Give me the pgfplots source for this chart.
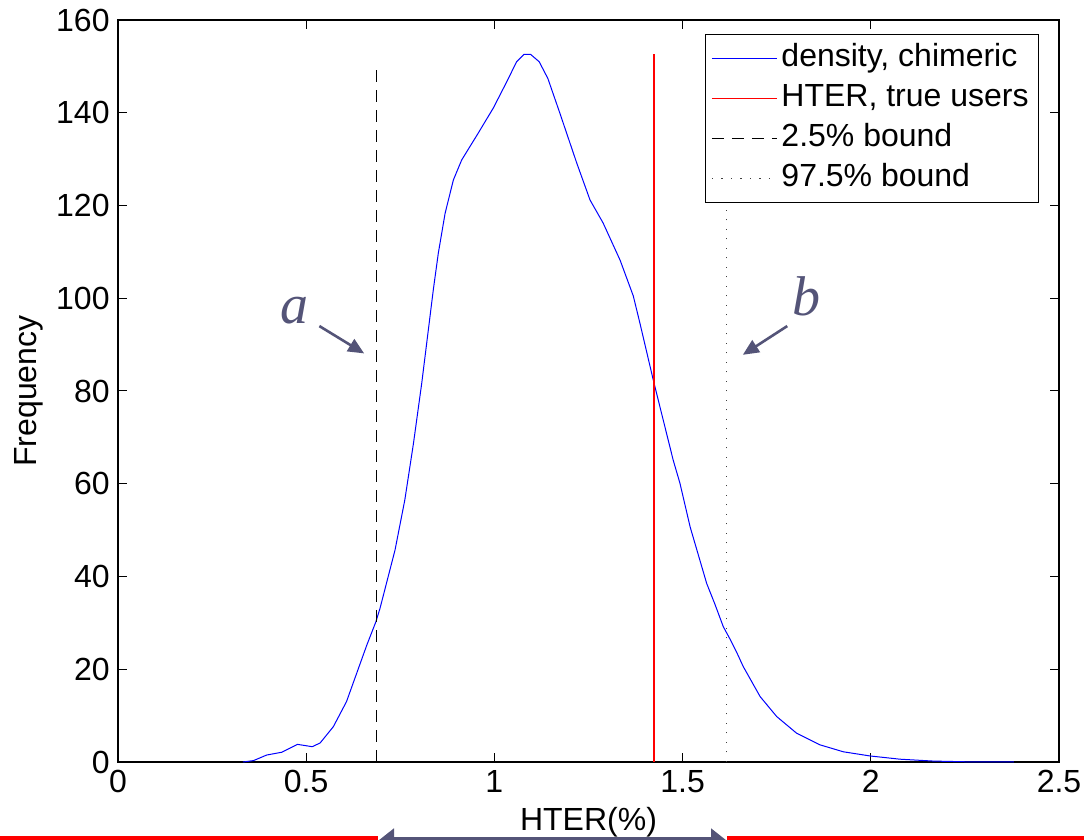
\documentclass[border=0pt]{standalone}
\usepackage{fontspec}
\setmainfont{Liberation Sans}
\newfontfamily\annotfont{Liberation Serif}
\usepackage{pgfplots}
\pgfplotsset{compat=1.18}
\usetikzlibrary{arrows.meta}
\definecolor{annot}{RGB}{84,84,120}

\begin{document}
\begin{tikzpicture}
\begin{axis}[
  scale only axis, width=470.5pt, height=371pt,
  at={(0pt,0pt)}, anchor=south west,
  xmin=0, xmax=2.5, ymin=0, ymax=160,
  xtick={0,0.5,1,1.5,2,2.5}, ytick={0,20,...,160},
  tick align=inside, major tick length=4.5pt,
  tick style={black, line width=0.5pt},
  axis line style={line width=0.8pt},
  /pgf/number format/assume math mode=true,
  tick label style={font=\fontsize{16}{19}\selectfont, inner sep=4pt},
  label style={font=\fontsize{16}{19}\selectfont},
  xlabel={HTER(\%)}, ylabel={Frequency},
  xlabel style={at={(axis description cs:0.5,-0.093)}, anchor=base},
  ylabel style={at={(axis description cs:-0.0871,0.5)}, anchor=base},
  clip=false,
  legend style={at={(rel axis cs:0.979,0.981)}, anchor=north east,
    draw=black, line width=0.6pt, fill=white,
    font=\fontsize{16}{19}\selectfont,
    inner xsep=3pt, inner ysep=2.5pt, row sep=1pt,
    nodes={inner sep=2pt, text height=11.5pt, text depth=3.5pt}},
  legend cell align=left,
  legend image code/.code={\draw[#1] (0pt,0pt) -- (32.5pt,0pt);},
]
% density curve
\addplot[blue, line width=0.5pt] coordinates {
  (0.332,0) (0.36,0.3) (0.395,1.5) (0.435,2.1) (0.477,3.8) (0.516,3.3)
  (0.537,4.1) (0.572,7.6) (0.607,13.0) (0.634,19.1) (0.661,25.2)
  (0.685,30.2) (0.696,33.1) (0.736,45.7) (0.762,56.5) (0.785,68.7)
  (0.807,81.7) (0.825,93.5) (0.838,102.0) (0.851,109.7) (0.869,118.3)
  (0.891,125.5) (0.913,129.8) (0.957,135.6) (0.997,141.0) (1.033,146.7)
  (1.059,151.0) (1.079,152.6) (1.096,152.6) (1.119,151.0) (1.142,147.4)
  (1.174,139.9) (1.219,129.1) (1.254,121.2) (1.289,116.2) (1.334,108.2)
  (1.369,100.5) (1.387,94.5) (1.422,82.4) (1.475,65.1) (1.493,60.1)
  (1.520,50.7) (1.564,38.5) (1.586,34.0) (1.608,29.2) (1.626,26.5)
  (1.644,23.6) (1.661,20.6) (1.706,14.1) (1.750,9.8) (1.803,6.2)
  (1.865,3.7) (1.927,2.2) (1.998,1.3) (2.078,0.6) (2.166,0.2)
  (2.25,0.05) (2.38,0)};
\addlegendentry{density, chimeric}
\addplot[red, line width=0.6pt] coordinates {(1.424,0) (1.424,152.6)};
\addlegendentry{HTER, true users}
\addplot[black, line width=0.5pt, dash pattern=on 6pt off 4pt]
  coordinates {(0.686,0) (0.686,150)};
\addlegendentry{2.5\% bound}
\addplot[black!75, line width=0.6pt, dash pattern=on 0.6pt off 4.15pt]
  coordinates {(1.617,0) (1.617,150)};
\addlegendentry{97.5\% bound}
% annotations
\node[annot, font=\annotfont\itshape\fontsize{28}{30}\selectfont]
  at (axis cs:0.468,97.3) {a};
\draw[annot, line width=1.3pt, -{Triangle[length=8pt,width=7pt]}]
  (axis cs:0.535,94.0) -- (axis cs:0.654,88.1);
\node[annot, font=\annotfont\itshape\fontsize{28}{30}\selectfont]
  at (axis cs:1.830,100.5) {b};
\draw[annot, line width=1.3pt, -{Triangle[length=8pt,width=7pt]}]
  (axis cs:1.778,94.0) -- (axis cs:1.660,87.8);
% strip at the bottom edge
\draw[red, line width=2pt] (axis cs:-0.4,-16.4) -- (axis cs:0.6908,-16.4);
\draw[red, line width=2pt] (axis cs:1.618,-16.4) -- (axis cs:2.7,-16.4);
\draw[annot, line width=4pt,
  {Triangle[length=8pt,width=12pt]}-{Triangle[length=8pt,width=12pt]}]
  (axis cs:0.6908,-17.0) -- (axis cs:1.618,-17.0);
\end{axis}
\pgfresetboundingbox
\path[use as bounding box] (-59pt,-39pt) rectangle (483pt,381pt);
\end{tikzpicture}
\end{document}
